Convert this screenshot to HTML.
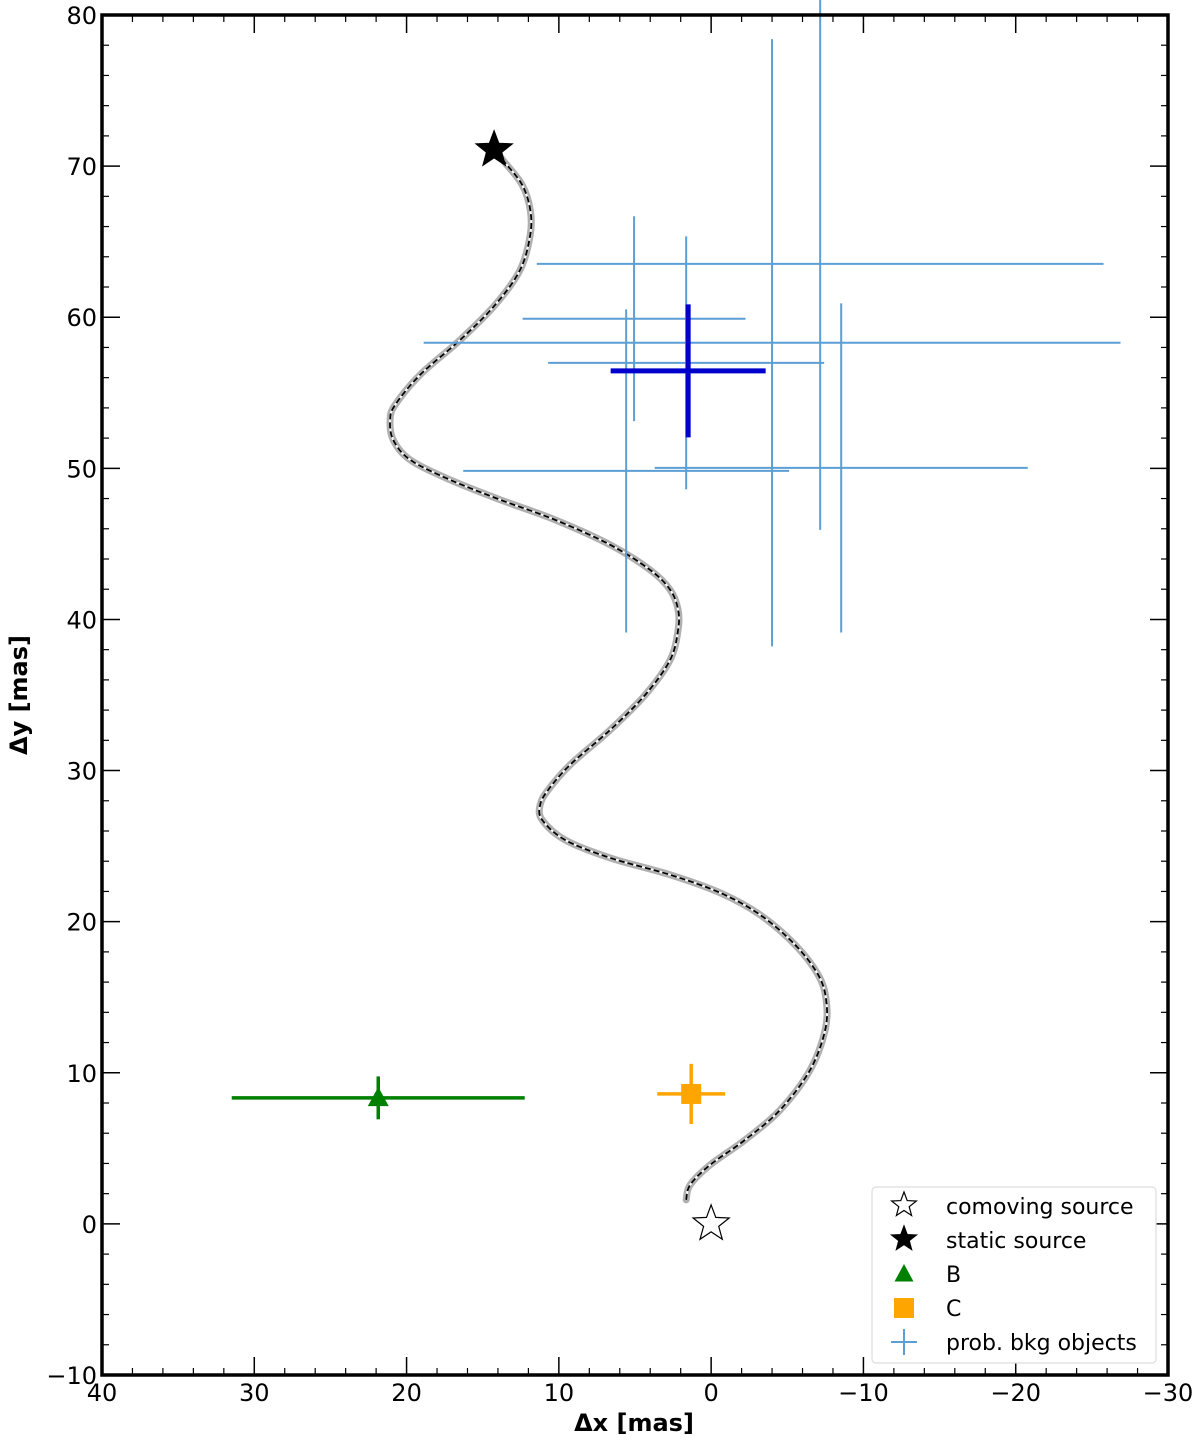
<!DOCTYPE html>
<html><head><meta charset="utf-8"><style>
body{margin:0;background:#fff}
svg{display:block;font-family:"DejaVu Sans","Liberation Sans",sans-serif}
</style></head><body>
<svg id="c" width="1200" height="1441" viewBox="0 0 1200 1441"></svg>
<script>
const curveX=[1.64,1.38,0.07,-2.23,-4.53,-6.50,-7.49,-7.55,-7.03,-5.52,-3.22,-0.59,2.69,6.63,9.59,11.10,11.23,10.70,9.26,6.63,4.33,2.69,2.17,2.17,2.69,4.01,6.63,10.24,13.85,17.14,19.76,20.88,21.08,20.75,19.11,16.48,14.18,12.54,11.88,11.88,12.41,13.53,14.25];
const curveY=[1.59,2.58,3.90,5.56,7.54,10.19,12.84,14.82,16.48,18.46,20.45,21.91,23.10,24.22,25.41,26.74,27.73,28.72,30.38,32.69,35.01,37.33,39.31,40.64,41.96,43.28,44.94,46.59,47.92,49.24,50.56,51.89,53.21,54.20,56.19,58.50,60.82,63.14,65.45,67.11,68.76,70.22,71.08];
const bkgX=[5.06,1.64,5.58,-4.0,-7.16,-8.54];
const bkgY=[59.9,56.98,49.83,58.31,63.53,50.03];
const bkgXerr=[7.32,9.06,10.70,22.88,18.61,12.25];
const bkgYerr=[6.78,8.37,10.69,20.09,17.6,10.89];
const meanBkg={x:1.51,y:56.45,xe:5.09,ye:4.40};
const compB={x:21.86,y:8.34,xe:9.62,ye:1.42};
const compC={x:1.31,y:8.6,xe:2.23,ye:1.99};
const staticSrc={x:14.25,y:71.08};
const comovSrc={x:0,y:0};
const xTicks=[40,30,20,10,0,-10,-20,-30];
const yTicks=[-10,0,10,20,30,40,50,60,70,80];

const L=102,R=1168,T=15,B=1375;
const sx=v=>L+(40-v)*(R-L)/70;
const sy=v=>B-(v+10)*(B-T)/90;
const svg=document.getElementById('c');
const NS='http://www.w3.org/2000/svg';
function mk(tag,at,parent){const e=document.createElementNS(NS,tag);for(const k in at)e.setAttribute(k,at[k]);(parent||svg).appendChild(e);return e;}
const fmt=v=>v<0?'\u2212'+(-v):''+v;

const P=curveX.map((x,i)=>[sx(x),sy(curveY[i])]);
let d='M'+P[0][0]+','+P[0][1];
for(let i=0;i<P.length-1;i++){const p0=P[Math.max(i-1,0)],p1=P[i],p2=P[i+1],p3=P[Math.min(i+2,P.length-1)];
d+=' C'+(p1[0]+(p2[0]-p0[0])/6)+','+(p1[1]+(p2[1]-p0[1])/6)+' '+(p2[0]-(p3[0]-p1[0])/6)+','+(p2[1]-(p3[1]-p1[1])/6)+' '+p2[0]+','+p2[1];}
let e;
e=mk('path',{d:d,fill:'none',stroke:'#b0b0b0','stroke-width':7,'stroke-linecap':'round'});


e=mk('path',{d:d,fill:'none',stroke:'#fff','stroke-width':2});


e=mk('path',{d:d,fill:'none',stroke:'#000','stroke-width':1.8,'stroke-dasharray':'6,3'});



function errbar(o,col,w,name){const g=mk('g',{});


mk('line',{x1:sx(o.x-o.xe),x2:sx(o.x+o.xe),y1:sy(o.y),y2:sy(o.y),stroke:col,'stroke-width':w},g);
mk('line',{x1:sx(o.x),x2:sx(o.x),y1:sy(o.y-o.ye),y2:sy(o.y+o.ye),stroke:col,'stroke-width':w},g);return g;}
for(let i=0;i<bkgX.length;i++) errbar({x:bkgX[i],y:bkgY[i],xe:bkgXerr[i],ye:bkgYerr[i]},'#5b9fd6',2,'bkg-object-'+(i+1));
errbar(meanBkg,'#0000cc',5,'bkg-mean');
errbar(compB,'#008000',3.5,'companion-b');
errbar(compC,'#ffa500',3.5,'companion-c');
function tri(cx,cy,s,col){return mk('polygon',{points:`${cx},${cy-s} ${cx-s*0.95},${cy+s*0.75} ${cx+s*0.95},${cy+s*0.75}`,fill:col});}
function star(cx,cy,r,fill,stroke){let p=[];for(let i=0;i<10;i++){const a=-Math.PI/2+i*Math.PI/5,rr=i%2?r*0.42:r;p.push((cx+rr*Math.cos(a)).toFixed(1)+','+(cy+rr*Math.sin(a)).toFixed(1));}return mk('polygon',{points:p.join(' '),fill:fill,stroke:stroke,'stroke-width':1.2});}
e=tri(sx(compB.x),sy(compB.y),11,'#008000');


e=mk('rect',{x:sx(compC.x)-10,y:sy(compC.y)-10,width:20,height:20,fill:'#ffa500'});


e=star(sx(staticSrc.x),sy(staticSrc.y),19,'#000','#000');


e=star(sx(comovSrc.x),sy(comovSrc.y),19,'#fff','#000');



const tg=mk('g',{stroke:'#000'});


for(let v=-30;v<=40;v+=2){const x=sx(v),maj=v%10===0,l=maj?18:7,w=maj?1.5:1.2;
mk('line',{x1:x,x2:x,y1:B,y2:B-l,'stroke-width':w},tg);mk('line',{x1:x,x2:x,y1:T,y2:T+l,'stroke-width':w},tg);}
for(let v=-10;v<=80;v+=2){const y=sy(v),maj=v%10===0,l=maj?18:7,w=maj?1.5:1.2;
mk('line',{x1:L,x2:L+l,y1:y,y2:y,'stroke-width':w},tg);mk('line',{x1:R,x2:R-l,y1:y,y2:y,'stroke-width':w},tg);}
e=mk('rect',{x:L,y:T,width:R-L,height:B-T,fill:'none',stroke:'#000','stroke-width':3.5});


xTicks.forEach(v=>{const t=mk('text',{x:sx(v),y:1401,'font-size':24,'text-anchor':'middle'});t.textContent=fmt(v);

});
yTicks.forEach(v=>{const t=mk('text',{x:97,y:sy(v)+9,'font-size':24,'text-anchor':'end'});t.textContent=fmt(v);

});
e=mk('text',{x:634,y:1431,'font-size':24,'font-weight':'bold','text-anchor':'middle'});e.textContent='Δx [mas]';


e=mk('text',{x:0,y:0,'font-size':24,'font-weight':'bold','text-anchor':'middle',transform:'translate(27,695) rotate(-90)'});e.textContent='Δy [mas]';



const lg=mk('g',{});


mk('rect',{x:872,y:1187,width:284,height:176,rx:4,fill:'#fff',stroke:'#ddd','stroke-width':1.2},lg);
const labels=['comoving source','static source','B','C','prob. bkg objects'];
labels.forEach((s,i)=>{const y=1206+i*34;
const t=mk('text',{x:946,y:y+8,'font-size':22},lg);t.textContent=s;

});
let m;
m=star(904,1205,13,'#fff','#000');lg.appendChild(m);
m=star(904,1239,13,'#000','#000');lg.appendChild(m);
m=tri(904,1274,10,'#008000');lg.appendChild(m);
mk('rect',{x:894,y:1298,width:20,height:20,fill:'#ffa500'},lg);
mk('line',{x1:891,x2:917,y1:1342,y2:1342,stroke:'#5b9fd6','stroke-width':2},lg);
mk('line',{x1:904,x2:904,y1:1329,y2:1355,stroke:'#5b9fd6','stroke-width':2},lg);
</script>
</body></html>
